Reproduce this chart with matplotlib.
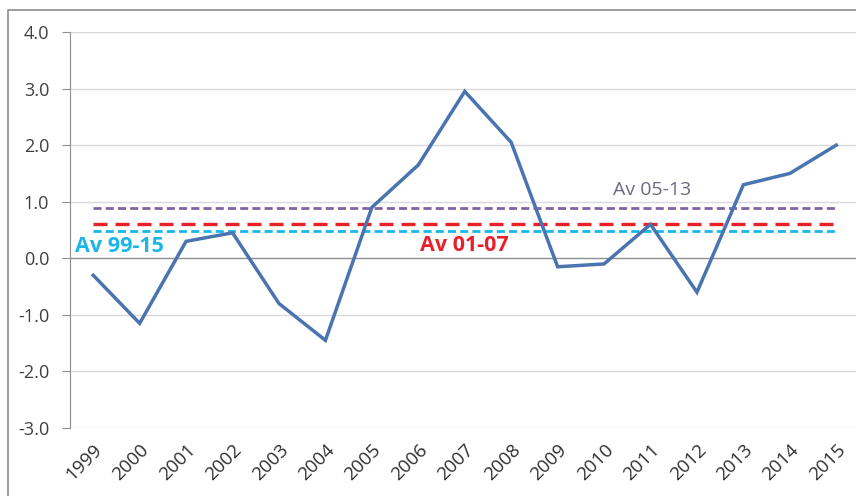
import matplotlib
matplotlib.use("Agg")
import matplotlib.pyplot as plt
from matplotlib.patches import Rectangle

years = [str(y) for y in range(1999, 2016)]
values = [-0.3, -1.15, 0.3, 0.45, -0.8, -1.45, 0.9, 1.65, 2.95, 2.05,
          -0.15, -0.1, 0.6, -0.6, 1.3, 1.5, 2.0]
avg_labels = ["Av 99-15", "Av 01-07", "Av 05-13"]
avg_values = [0.48, 0.61, 0.89]
y_ticks = [4.0, 3.0, 2.0, 1.0, 0.0, -1.0, -2.0, -3.0]

plt.rcParams["font.family"] = ["Open Sans", "DejaVu Sans"]

fig = plt.figure(figsize=(8.56, 4.96), dpi=100)
fig.patch.set_facecolor("white")
# outer chart frame
fig.add_artist(Rectangle((8 / 856, -0.05), 1.1, 1 - 10 / 496 + 0.05,
                         transform=fig.transFigure, fill=False,
                         edgecolor="#8c8c8c", linewidth=1.2))

ax = fig.add_axes([70 / 856, 1 - 428 / 496, 789.5 / 856, (428 - 32) / 496])
x = list(range(len(years)))

ax.set_xlim(-0.5, len(years) - 0.5)
ax.set_ylim(-3.0, 4.0)
ax.set_yticks(y_ticks)
ax.set_yticklabels([f"{v:.1f}" for v in y_ticks])
for v in y_ticks:
    ax.axhline(v, color="#d9d9d9" if v != 0 else "#8f8f8f", lw=1.0, zorder=1)

for s in ["top", "right", "bottom"]:
    ax.spines[s].set_visible(False)
ax.spines["left"].set_color("#8f8f8f")
ax.tick_params(axis="y", length=6, color="#8f8f8f", pad=9,
               labelsize=13, labelcolor="#404040")
ax.set_xticks(x)
ax.set_xticklabels(years, rotation=45, ha="right", rotation_mode="anchor",
                   fontsize=13.5, color="#303030")
ax.tick_params(axis="x", length=0, pad=9)

# average reference lines
avg_styles = [
    dict(color="#1ab6e8", dashes=(2.9, 1.5), lw=2.0),
    dict(color="#e8202a", dashes=(4.2, 2.4), lw=2.4),
    dict(color="#8064a2", dashes=(2.9, 1.5), lw=2.0),
]
for val, st in zip(avg_values, avg_styles):
    ax.plot([x[0], x[-1]], [val, val], color=st["color"], lw=st["lw"],
            dashes=st["dashes"], zorder=2)

ax.plot(x, values, color="#4a74b0", lw=2.5, zorder=3,
        solid_joinstyle="miter")

ax.text(-0.4, 0.21, avg_labels[0], color="#1ab6e8", fontsize=15.5,
        fontweight="bold", va="center", ha="left", zorder=4)
ax.text(8.0, 0.23, avg_labels[1], color="#e8202a", fontsize=15.5,
        fontweight="bold", va="center", ha="center", zorder=4)
ax.text(12.03, 1.21, avg_labels[2], color="#6e6880", fontsize=14,
        va="center", ha="center", zorder=4)

fig.savefig("out.png", dpi=100)
